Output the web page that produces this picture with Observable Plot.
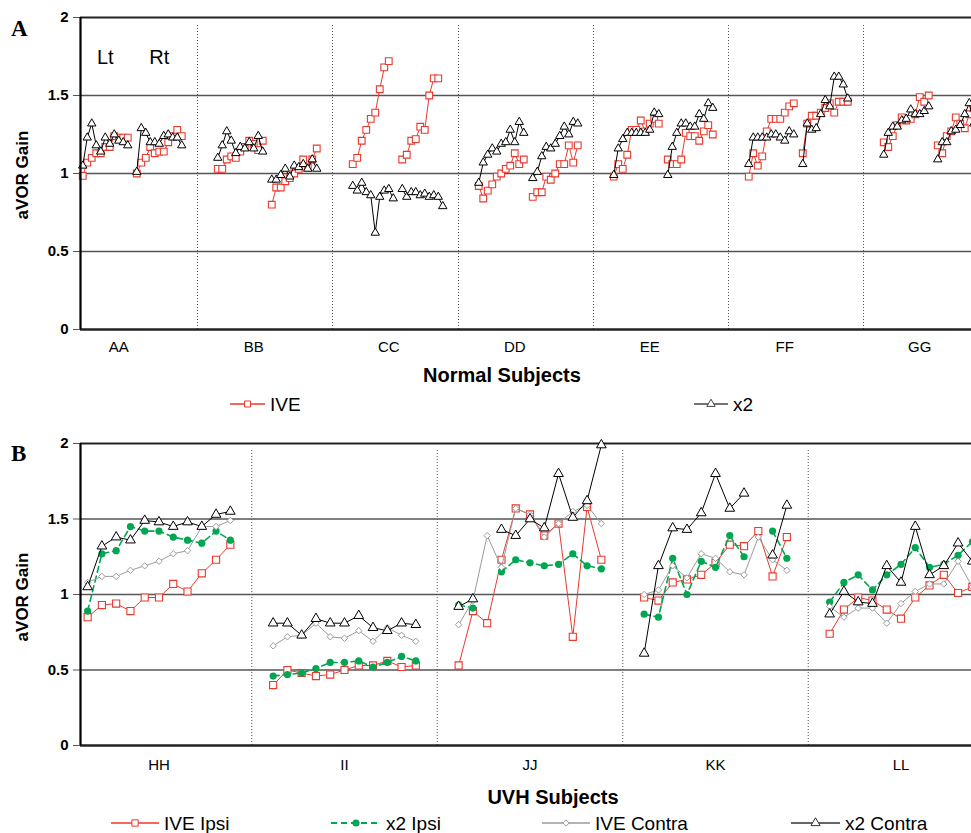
<!DOCTYPE html>
<html><head><meta charset="utf-8">
<script src="https://cdn.jsdelivr.net/npm/d3@7"></script>
<script src="https://cdn.jsdelivr.net/npm/@observablehq/plot@0.6"></script>
<style>
body{margin:0;background:#fff;overflow:hidden;font-family:"Liberation Sans",Arial,sans-serif}
#wrap{position:relative;width:971px;height:833px;overflow:hidden;background:#fff}
#wrap > *{position:absolute;left:0}
</style></head><body><div id="wrap"></div>
<script>
// ---------- Panel A data: Normal subjects ----------
const normalSubjects = ["AA","BB","CC","DD","EE","FF","GG"];
const normLtIVE = [
  [0.985,1.07,1.10,1.13,1.13,1.17,1.17,1.24,1.23,1.23,1.23],
  [1.03,1.03,1.09,1.11,1.10,1.14,1.17,1.21,1.19,1.15,1.21],
  [1.06,1.10,1.21,1.28,1.35,1.39,1.54,1.68,1.72],
  [0.92,0.84,0.89,0.93,0.98,1.00,1.03,1.05,1.13,1.06,1.09],
  [0.98,1.06,1.03,1.12,1.28,1.28,1.34,1.27,1.32,1.35,1.32],
  [0.98,1.13,1.05,1.11,1.27,1.35,1.35,1.35,1.39,1.43,1.45],
  [1.20,1.17,1.24,1.31,1.36,1.34,1.35,1.38,1.49,1.46,1.50]
];
const normLtX2 = [
  [1.05,1.23,1.32,1.18,1.14,1.23,1.19,1.25,1.21,1.20,1.18],
  [1.10,1.18,1.27,1.21,1.13,1.17,1.16,1.20,1.16,1.24,1.14],
  [0.92,0.89,0.94,0.88,0.86,0.62,0.85,0.89,0.90,0.84],
  [0.94,1.07,1.12,1.16,1.14,1.19,1.20,1.28,1.20,1.33,1.26],
  [0.99,1.16,1.22,1.26,1.26,1.26,1.26,1.26,1.28,1.39,1.38],
  [1.06,1.23,1.23,1.23,1.23,1.25,1.25,1.23,1.21,1.27,1.25],
  [1.12,1.26,1.30,1.30,1.34,1.35,1.41,1.38,1.38,1.40,1.43]
];
const normRtIVE = [
  [1.00,1.07,1.10,1.17,1.13,1.14,1.14,1.20,1.24,1.28,1.24],
  [0.80,0.91,0.91,0.95,0.97,1.00,1.03,1.09,1.04,1.09,1.16],
  [1.09,1.12,1.21,1.22,1.30,1.28,1.50,1.61,1.61],
  [0.85,0.88,0.88,0.98,0.96,1.00,1.06,1.06,1.18,1.07,1.18],
  [1.09,1.06,1.06,1.09,1.26,1.24,1.24,1.21,1.27,1.31,1.25],
  [1.13,1.32,1.37,1.37,1.39,1.42,1.45,1.39,1.46,1.46,1.46],
  [1.18,1.13,1.24,1.27,1.36,1.32,1.29,1.38,1.42,1.40,1.35]
];
const normRtX2 = [
  [1.01,1.29,1.26,1.20,1.20,1.19,1.24,1.25,1.23,1.23,1.18],
  [0.96,0.96,0.99,1.03,0.98,1.05,1.04,1.06,1.03,1.09,1.03],
  [0.90,0.85,0.88,0.88,0.86,0.87,0.85,0.86,0.85,0.79],
  [0.97,1.01,1.11,1.17,1.16,1.19,1.24,1.30,1.25,1.33,1.32],
  [0.99,1.17,1.26,1.32,1.32,1.30,1.30,1.38,1.35,1.45,1.42],
  [1.06,1.32,1.28,1.29,1.38,1.47,1.43,1.62,1.62,1.57,1.48],
  [1.09,1.20,1.20,1.27,1.28,1.31,1.38,1.45,1.32,1.40,1.38]
];

// ---------- Panel B data: UVH subjects ----------
const uvhSubjects = ["HH","II","JJ","KK","LL"];
const ipsiIVE = [
  [0.85,0.93,0.94,0.89,0.98,0.98,1.07,1.02,1.14,1.23,1.33],
  [0.40,0.50,0.48,0.46,0.47,0.50,0.53,0.53,0.56,0.52,0.53],
  [0.53,0.89,0.81,1.23,1.57,1.53,1.39,1.47,0.72,1.58,1.23],
  [0.98,0.96,1.08,1.10,1.13,1.21,1.33,1.32,1.42,1.12,1.38],
  [0.74,0.90,0.98,0.96,0.90,0.84,0.98,1.06,1.13,1.01,1.05]
];
const ipsiX2 = [
  [0.89,1.27,1.29,1.45,1.42,1.42,1.38,1.36,1.34,1.42,1.36],
  [0.46,0.47,0.48,0.51,0.55,0.55,0.56,0.52,0.55,0.59,0.56],
  [0.93,0.91,null,1.15,1.23,1.21,1.19,1.20,1.27,1.19,1.17],
  [0.87,0.85,1.24,1.00,1.22,1.18,1.39,1.25,null,1.42,1.24],
  [0.95,1.08,1.13,1.03,1.13,1.20,1.31,1.18,1.20,1.26,1.35]
];
const contraIVE = [
  [1.08,1.12,1.12,1.16,1.19,1.22,1.27,1.29,1.45,1.45,1.49],
  [0.66,0.72,0.73,0.81,0.72,0.71,0.76,0.69,0.78,0.73,0.69],
  [0.80,0.96,1.39,1.18,1.57,1.53,1.38,1.47,1.55,1.59,1.47],
  [1.00,1.03,1.19,1.11,1.27,1.24,1.15,1.13,1.38,1.23,1.16],
  [0.92,0.85,0.91,0.91,0.81,0.94,1.02,1.07,1.07,1.22,1.05]
];
const contraX2 = [
  [1.05,1.32,1.38,1.36,1.49,1.48,1.45,1.48,1.45,1.53,1.55],
  [0.81,0.81,0.73,0.84,0.81,0.81,0.86,0.78,0.76,0.81,0.80],
  [0.92,0.97,null,1.43,1.39,1.50,1.44,1.80,1.51,1.62,1.99],
  [0.61,1.19,1.44,1.43,1.54,1.80,1.57,1.67,null,1.26,1.59],
  [0.87,1.02,0.95,0.94,1.19,1.08,1.45,1.13,1.19,1.34,1.22]
];
const yTicks = [0, 0.5, 1, 1.5, 2];

// ---------- styling ----------
const RED = "#e8392f", GREEN = "#00a651", GRAY = "#9b9b9b", BLACK = "#000";
const FONT = "Liberation Sans, Arial, sans-serif";
const wrap = document.getElementById("wrap");

function place(el, top) { el.style.top = top + "px"; wrap.appendChild(el); }

// ---------- Panel A layout (category slots) ----------
const GAP_A = 7;
const rowsA = [], groupsA = [];
{
  let start = 0;
  normalSubjects.forEach((s, i) => {
    const nL = Math.max(normLtIVE[i].length, normLtX2[i].length);
    const rtStart = start + nL + 1;
    const nR = Math.max(normRtIVE[i].length, normRtX2[i].length);
    const end = rtStart + nR - 1;
    const push = (arr, series, side, s0) => arr.forEach((v, j) =>
      rowsA.push({series, key: s + side + series, x: s0 + j + 0.5, y: v}));
    push(normLtIVE[i], "IVE", "Lt", start);
    push(normRtIVE[i], "IVE", "Rt", rtStart);
    push(normLtX2[i], "x2", "Lt", start);
    push(normRtX2[i], "x2", "Rt", rtStart);
    groupsA.push({name: s, start, rtStart, nL, nR, end});
    start = end + GAP_A + 1;
  });
}
const dividersA = groupsA.slice(0, -1).map(g => g.end + 1 + Math.floor(GAP_A / 2));

const plotA = Plot.plot({
  width: 971, height: 360,
  marginLeft: 80, marginRight: 0, marginTop: 17, marginBottom: 31,
  x: {domain: [0, 198], axis: null},
  y: {domain: [0, 2], axis: null},
  style: {fontFamily: FONT, background: "transparent", overflow: "hidden"},
  marks: [
    Plot.ruleY([0.5, 1, 1.5], {stroke: "#555", strokeWidth: 1.3}),
    Plot.ruleY([2], {stroke: "#222", strokeWidth: 1.8}),
    Plot.ruleX(dividersA, {y1: 0, y2: 2, stroke: "#555", strokeDasharray: "1,2", strokeWidth: 1, insetBottom: -7}),
    Plot.axisY({ticks: yTicks, tickFormat: d => String(d), tickSize: 7, tickPadding: 5, label: null,
      fontSize: 15, fontWeight: "bold", stroke: "#555"}),
    Plot.line(rowsA.filter(d => d.series === "IVE"), {x: "x", y: "y", z: "key", stroke: RED, strokeWidth: 1}),
    Plot.dot(rowsA.filter(d => d.series === "IVE"), {x: "x", y: "y", symbol: "square", r: 3.8, stroke: RED, fill: "white", strokeWidth: 1.1}),
    Plot.line(rowsA.filter(d => d.series === "x2"), {x: "x", y: "y", z: "key", stroke: BLACK, strokeWidth: 1}),
    Plot.dot(rowsA.filter(d => d.series === "x2"), {x: "x", y: "y", symbol: "triangle", r: 3.1, stroke: BLACK, fill: "white", strokeWidth: 1}),
    Plot.ruleY([0], {stroke: "#222", strokeWidth: 2.6}),
    Plot.ruleX([0], {y1: 0, y2: 2, stroke: BLACK, strokeWidth: 2.2}),
    Plot.text(groupsA, {x: g => g.start + 8.5, y: 0, text: "name", dy: 18, fontSize: 15, fill: BLACK}),
    Plot.text(["Lt"], {x: groupsA[0].start + groupsA[0].nL / 2, y: 1.74, text: d => d, fontSize: 20}),
    Plot.text(["Rt"], {x: groupsA[0].rtStart + groupsA[0].nR / 2, y: 1.74, text: d => d, fontSize: 20})
  ]
});
place(plotA, 0);

// ---------- Panel B layout ----------
const GAP_B = 2;
const rowsB = [], groupsB = [];
{
  let start = 0;
  uvhSubjects.forEach((s, i) => {
    const n = Math.max(ipsiIVE[i].length, ipsiX2[i].length, contraIVE[i].length, contraX2[i].length);
    const end = start + n - 1;
    const push = (arr, series) => arr.forEach((v, j) =>
      rowsB.push({series, key: s + series, x: start + j + 0.5, y: v}));
    push(ipsiIVE[i], "IVE Ipsi");
    push(ipsiX2[i], "x2 Ipsi");
    push(contraIVE[i], "IVE Contra");
    push(contraX2[i], "x2 Contra");
    groupsB.push({name: s, start, n, end});
    start = end + GAP_B + 1;
  });
}
const dividersB = groupsB.slice(0, -1).map(g => g.end + 1 + Math.floor(GAP_B / 2));
const ser = name => rowsB.filter(d => d.series === name);
const serDef = name => rowsB.filter(d => d.series === name && d.y != null);

const plotB = Plot.plot({
  width: 971, height: 345,
  marginLeft: 80, marginRight: 0, marginTop: 13, marginBottom: 30,
  x: {domain: [0, 62.44], axis: null},
  y: {domain: [0, 2], axis: null},
  style: {fontFamily: FONT, background: "transparent", overflow: "hidden"},
  marks: [
    Plot.ruleY([0.5, 1, 1.5], {stroke: "#555", strokeWidth: 1.3}),
    Plot.ruleY([2], {stroke: "#222", strokeWidth: 1.8}),
    Plot.ruleX(dividersB, {y1: 0, y2: 2, stroke: "#555", strokeDasharray: "1,2", strokeWidth: 1, insetBottom: -6}),
    Plot.axisY({ticks: yTicks, tickFormat: d => String(d), tickSize: 7, tickPadding: 5, label: null,
      fontSize: 15, fontWeight: "bold", stroke: "#555"}),
    Plot.line(ser("IVE Ipsi"), {x: "x", y: "y", z: "key", stroke: RED, strokeWidth: 1}),
    Plot.dot(serDef("IVE Ipsi"), {x: "x", y: "y", symbol: "square", r: 4, stroke: RED, fill: "white", strokeWidth: 1.1}),
    Plot.line(ser("x2 Ipsi"), {x: "x", y: "y", z: "key", stroke: GREEN, strokeWidth: 1.6, strokeDasharray: "6,4"}),
    Plot.dot(serDef("x2 Ipsi"), {x: "x", y: "y", r: 3.6, fill: GREEN, stroke: "none"}),
    Plot.line(ser("IVE Contra"), {x: "x", y: "y", z: "key", stroke: GRAY, strokeWidth: 1}),
    Plot.dot(serDef("IVE Contra"), {x: "x", y: "y", symbol: "diamond2", r: 2.9, stroke: GRAY, fill: "white", strokeWidth: 1}),
    Plot.line(ser("x2 Contra"), {x: "x", y: "y", z: "key", stroke: BLACK, strokeWidth: 1}),
    Plot.dot(serDef("x2 Contra"), {x: "x", y: "y", symbol: "triangle", r: 3.6, stroke: BLACK, fill: "white", strokeWidth: 1}),
    Plot.ruleY([0], {stroke: "#222", strokeWidth: 2.6}),
    Plot.ruleX([0], {y1: 0, y2: 2, stroke: BLACK, strokeWidth: 2.2}),
    Plot.text(groupsB, {x: g => g.start + g.n / 2, y: 0, text: "name", dy: 20, fontSize: 15, fill: BLACK})
  ]
});
place(plotB, 430);

// ---------- overlay: titles, axis labels, legends ----------
const ov = d3.create("svg").attr("width", 971).attr("height", 833)
  .style("pointer-events", "none").style("font-family", FONT);
ov.append("text").attr("x", 11).attr("y", 36).text("A")
  .style("font-family", "Liberation Serif, Times New Roman, serif").style("font-weight", "bold").style("font-size", "23px");
ov.append("text").attr("x", 11).attr("y", 461).text("B")
  .style("font-family", "Liberation Serif, Times New Roman, serif").style("font-weight", "bold").style("font-size", "23px");
[[175], [597]].forEach(([cy]) => {
  ov.append("text").attr("transform", `translate(28,${cy}) rotate(-90)`).attr("text-anchor", "middle")
    .style("font-weight", "bold").style("font-size", "17px").text("aVOR Gain");
});
ov.append("text").attr("x", 502).attr("y", 382).attr("text-anchor", "middle")
  .style("font-weight", "bold").style("font-size", "20px").text("Normal Subjects");
ov.append("text").attr("x", 553).attr("y", 804).attr("text-anchor", "middle")
  .style("font-weight", "bold").style("font-size", "20px").text("UVH Subjects");

function legendItem(x1, x2, y, color, dash, symbol, size, filled, label) {
  ov.append("line").attr("x1", x1).attr("x2", x2).attr("y1", y).attr("y2", y)
    .attr("stroke", color).attr("stroke-width", dash ? 1.8 : 1.3).attr("stroke-dasharray", dash || null);
  ov.append("path").attr("transform", `translate(${(x1 + x2) / 2},${y})`)
    .attr("d", d3.symbol(symbol, size)())
    .attr("fill", filled ? color : "white").attr("stroke", filled ? "none" : color).attr("stroke-width", 1);
  ov.append("text").attr("x", x2 + 5).attr("y", y).attr("dy", "0.36em")
    .style("font-size", "19px").text(label);
}
legendItem(230, 265, 404, RED, null, d3.symbolSquare, 36, false, "IVE");
legendItem(694, 728, 404, "#444", null, d3.symbolTriangle, 30, false, "x2");
legendItem(111, 159, 823, RED, null, d3.symbolSquare, 40, false, "IVE Ipsi");
legendItem(331, 381, 823, GREEN, "6,4", d3.symbolCircle, 40, true, "x2 Ipsi");
legendItem(542, 590, 823, GRAY, null, d3.symbolDiamond2, 26, false, "IVE Contra");
legendItem(791, 840, 823, "#333", null, d3.symbolTriangle, 36, false, "x2 Contra");
place(ov.node(), 0);
</script></body></html>
